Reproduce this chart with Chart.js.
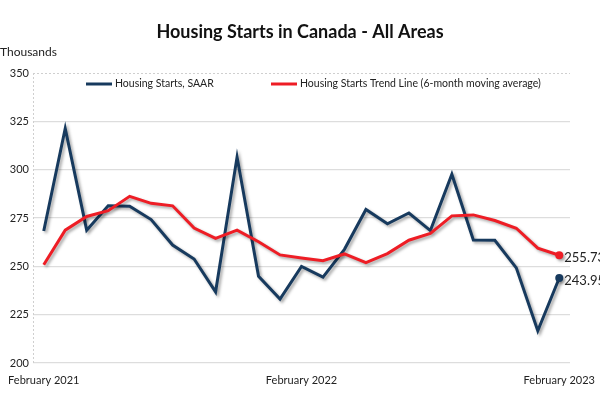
<!DOCTYPE html>
<html>
<head>
<meta charset="utf-8">
<script src="https://cdn.jsdelivr.net/npm/chart.js@4"></script>
<style>
html,body{margin:0;padding:0;background:#fff;}
#wrap{width:600px;height:400px;position:relative;}
</style>
</head>
<body>
<div id="wrap"><canvas id="c" width="600" height="400"></canvas></div>
<script>
const titleText = "Housing Starts in Canada - All Areas";
const unitText = "Thousands";
const months = ["February 2021","March 2021","April 2021","May 2021","June 2021","July 2021","August 2021","September 2021","October 2021","November 2021","December 2021","January 2022","February 2022","March 2022","April 2022","May 2022","June 2022","July 2022","August 2022","September 2022","October 2022","November 2022","December 2022","January 2023","February 2023"];
const shownLabels = ["February 2021","February 2022","February 2023"];
const saarLabel = "Housing Starts, SAAR";
const saar = [268.3, 321.3, 268.7, 281.3, 281.1, 274.2, 261.0, 253.8, 236.8, 306.5, 244.8, 233.1, 249.9, 244.4, 258.8, 279.4, 272.0, 277.6, 268.5, 297.6, 263.6, 263.5, 249.2, 216.7, 243.95];
const trendLabel = "Housing Starts Trend Line (6-month moving average)";
const trend = [250.8, 268.7, 275.8, 278.8, 286.2, 282.6, 281.3, 269.8, 264.5, 268.7, 262.7, 255.9, 254.3, 252.9, 256.4, 251.9, 256.6, 263.5, 267.0, 276.1, 276.6, 273.7, 269.7, 259.4, 255.73];
const yTicks = [200, 225, 250, 275, 300, 325, 350];
const yMin = 200, yMax = 350;

const navy = "#173a5e";
const red = "#ee1d25";
const FONT = "Lato, 'Open Sans', sans-serif";

const shadowPlugin = {
  id: "shadow",
  beforeDatasetDraw(chart) {
    const ctx = chart.ctx;
    ctx.save();
    ctx.shadowColor = "rgba(0,0,0,0.35)";
    ctx.shadowBlur = 3;
    ctx.shadowOffsetX = 2;
    ctx.shadowOffsetY = 2;
  },
  afterDatasetDraw(chart) {
    chart.ctx.restore();
  }
};

const framePlugin = {
  id: "frame",
  beforeDatasetsDraw(chart) {
    const ctx = chart.ctx, a = chart.chartArea;
    const yTop = chart.scales.y.getPixelForValue(yMax);
    ctx.save();
    ctx.strokeStyle = "#cfcfcf";
    ctx.lineWidth = 1;
    ctx.setLineDash([2, 2]);
    ctx.beginPath();
    ctx.moveTo(a.left, yTop + 0.5);
    ctx.lineTo(a.right, yTop + 0.5);
    ctx.moveTo(a.left + 0.5, a.top);
    ctx.lineTo(a.left + 0.5, a.bottom);
    ctx.stroke();
    ctx.restore();
  }
};

const decorPlugin = {
  id: "decor",
  afterDraw(chart) {
    const ctx = chart.ctx;
    ctx.save();
    // title
    ctx.fillStyle = "#111";
    ctx.font = "bold 18px " + FONT;
    ctx.textAlign = "center";
    ctx.textBaseline = "middle";
    ctx.fillText(titleText, 300, 32);
    // unit
    ctx.font = "12px " + FONT;
    ctx.textAlign = "left";
    ctx.fillStyle = "#222";
    ctx.fillText(unitText, 0, 52);
    // legend
    const ly = 84;
    const items = [
      {x: 86, color: navy, text: chart.data.datasets[0].label},
      {x: 271, color: red, text: chart.data.datasets[1].label}
    ];
    ctx.font = "10.5px " + FONT;
    items.forEach(it => {
      ctx.strokeStyle = it.color;
      ctx.lineWidth = 3;
      ctx.beginPath();
      ctx.moveTo(it.x, ly);
      ctx.lineTo(it.x + 26, ly);
      ctx.stroke();
      ctx.fillStyle = "#222";
      ctx.fillText(it.text, it.x + 29, ly);
    });
    // end value labels
    ctx.font = "13px " + FONT;
    ctx.fillStyle = "#222";
    chart.data.datasets.forEach((ds, i) => {
      const meta = chart.getDatasetMeta(i);
      const last = meta.data[meta.data.length - 1];
      const v = ds.data[ds.data.length - 1];
      ctx.fillText(v.toFixed(2), last.x + 5, last.y + 3);
    });
    ctx.restore();
  }
};

const lastOnly = (r) => (c) => c.dataIndex === c.dataset.data.length - 1 ? r : 0;

new Chart(document.getElementById("c"), {
  type: "line",
  data: {
    labels: months,
    datasets: [
      {label: saarLabel, data: saar, borderColor: navy, backgroundColor: navy, borderWidth: 3, tension: 0, pointRadius: lastOnly(4), pointHoverRadius: 0, pointBorderWidth: 0, order: 1},
      {label: trendLabel, data: trend, borderColor: red, backgroundColor: red, borderWidth: 3, tension: 0, pointRadius: lastOnly(4), pointHoverRadius: 0, pointBorderWidth: 0, order: 0}
    ]
  },
  options: {
    responsive: false,
    animation: false,
    devicePixelRatio: 1,
    clip: false,
    layout: {padding: {top: 73, right: 30, left: 0, bottom: 0}},
    plugins: {legend: {display: false}, title: {display: false}, tooltip: {enabled: false}},
    scales: {
      x: {
        offset: true,
        grid: {display: false, drawTicks: false},
        border: {display: false},
        afterFit(s) { s.height = 37; s.paddingLeft = 0; s.paddingRight = 0; },
        ticks: {
          autoSkip: false, maxRotation: 0, padding: 11,
          color: "#222", font: {family: FONT, size: 11},
          callback(v, i) { const l = months[i]; return shownLabels.includes(l) ? l : ""; }
        }
      },
      y: {
        min: yMin, max: yMax,
        afterFit(s) { s.width = 33; s.paddingTop = 0; s.paddingBottom = 0; },
        afterBuildTicks(s) { s.ticks = yTicks.map(v => ({value: v})); },
        grid: {color: (c) => c.tick && c.tick.value === yMax ? "rgba(0,0,0,0)" : "#dddddd", lineWidth: 1.2, drawTicks: false},
        border: {display: false},
        ticks: {padding: 4, color: "#222", font: {family: FONT, size: 11}}
      }
    }
  },
  plugins: [shadowPlugin, framePlugin, decorPlugin]
});
</script>
</body>
</html>
